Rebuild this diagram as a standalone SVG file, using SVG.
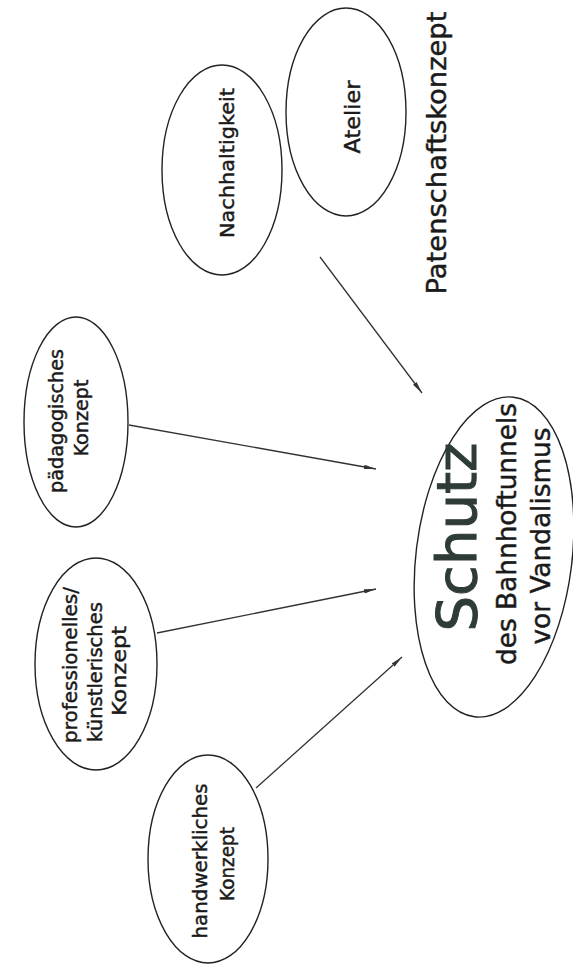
<svg xmlns="http://www.w3.org/2000/svg" width="573" height="966" viewBox="0 0 573 966">
  <defs>
    <marker id="arr" viewBox="0 0 12 6" refX="12" refY="3" markerWidth="12" markerHeight="6" markerUnits="userSpaceOnUse" orient="auto">
      <path d="M0,0.8 L12,3 L0,5.2 Z" fill="#333"/>
    </marker>
  </defs>
  <style>
    .node { fill: none; stroke: #222; stroke-width: 1.4; }
    .lbl { font-family: "DejaVu Sans", "Liberation Sans", sans-serif; fill: #1a1a1a; stroke: #1a1a1a; stroke-width: 0.45; text-anchor: middle; }
    .big { fill: #2f3b37; stroke: #2f3b37; stroke-width: 1; }
    .edge { stroke: #333; stroke-width: 1.3; fill: none; marker-end: url(#arr); }
  </style>
  <rect width="573" height="966" fill="#ffffff"/>

  <g id="atelier">
    <ellipse class="node" cx="346" cy="112" rx="60" ry="104"/>
    <text class="lbl" font-size="22" textLength="73" lengthAdjust="spacingAndGlyphs" transform="translate(360,117) rotate(-90)">Atelier</text>
  </g>

  <g id="nachhaltigkeit">
    <ellipse class="node" cx="222" cy="170" rx="60" ry="105"/>
    <text class="lbl" font-size="20" textLength="150" lengthAdjust="spacingAndGlyphs" transform="translate(234,163) rotate(-90)">Nachhaltigkeit</text>
  </g>

  <g id="patenschaftskonzept">
    <text class="lbl" font-size="27" textLength="283" lengthAdjust="spacingAndGlyphs" transform="translate(446,153) rotate(-90)">Patenschaftskonzept</text>
  </g>

  <g id="paedagogisch">
    <ellipse class="node" cx="76" cy="422" rx="52" ry="105"/>
    <text class="lbl" font-size="20" textLength="144" lengthAdjust="spacingAndGlyphs" transform="translate(63,421) rotate(-90)">pädagogisches</text>
    <text class="lbl" font-size="20" textLength="77" lengthAdjust="spacingAndGlyphs" transform="translate(88,418) rotate(-90)">Konzept</text>
  </g>

  <g id="professionell">
    <ellipse class="node" cx="96" cy="664" rx="61" ry="106"/>
    <text class="lbl" font-size="20" textLength="156" lengthAdjust="spacingAndGlyphs" transform="translate(77,665) rotate(-90)">professionelles/</text>
    <text class="lbl" font-size="20" textLength="140" lengthAdjust="spacingAndGlyphs" transform="translate(102,672) rotate(-90)">künstlerisches</text>
    <text class="lbl" font-size="20" textLength="90" lengthAdjust="spacingAndGlyphs" transform="translate(126,671) rotate(-90)">Konzept</text>
  </g>

  <g id="handwerklich">
    <ellipse class="node" cx="208" cy="859" rx="60" ry="104"/>
    <text class="lbl" font-size="20" textLength="155" lengthAdjust="spacingAndGlyphs" transform="translate(207,861) rotate(-90)">handwerkliches</text>
    <text class="lbl" font-size="20" textLength="74" lengthAdjust="spacingAndGlyphs" transform="translate(234,864) rotate(-90)">Konzept</text>
  </g>

  <g id="schutz">
    <ellipse class="node" cx="494" cy="557" rx="78" ry="161" transform="rotate(7 494 557)"/>
    <text class="lbl big" font-size="55" textLength="189" lengthAdjust="spacingAndGlyphs" transform="translate(476,537) rotate(-90)">Schutz</text>
    <text class="lbl" font-size="26" textLength="262" lengthAdjust="spacingAndGlyphs" transform="translate(516,534) rotate(-90)">des Bahnhoftunnels</text>
    <text class="lbl" font-size="26" textLength="217" lengthAdjust="spacingAndGlyphs" transform="translate(550,536) rotate(-90)">vor Vandalismus</text>
  </g>

  <g id="connectors">
    <line class="edge" x1="320" y1="257" x2="422" y2="393"/>
    <line class="edge" x1="129" y1="425" x2="376" y2="469"/>
    <line class="edge" x1="157" y1="633" x2="376" y2="589"/>
    <line class="edge" x1="256" y1="788" x2="402" y2="657"/>
  </g>
</svg>
